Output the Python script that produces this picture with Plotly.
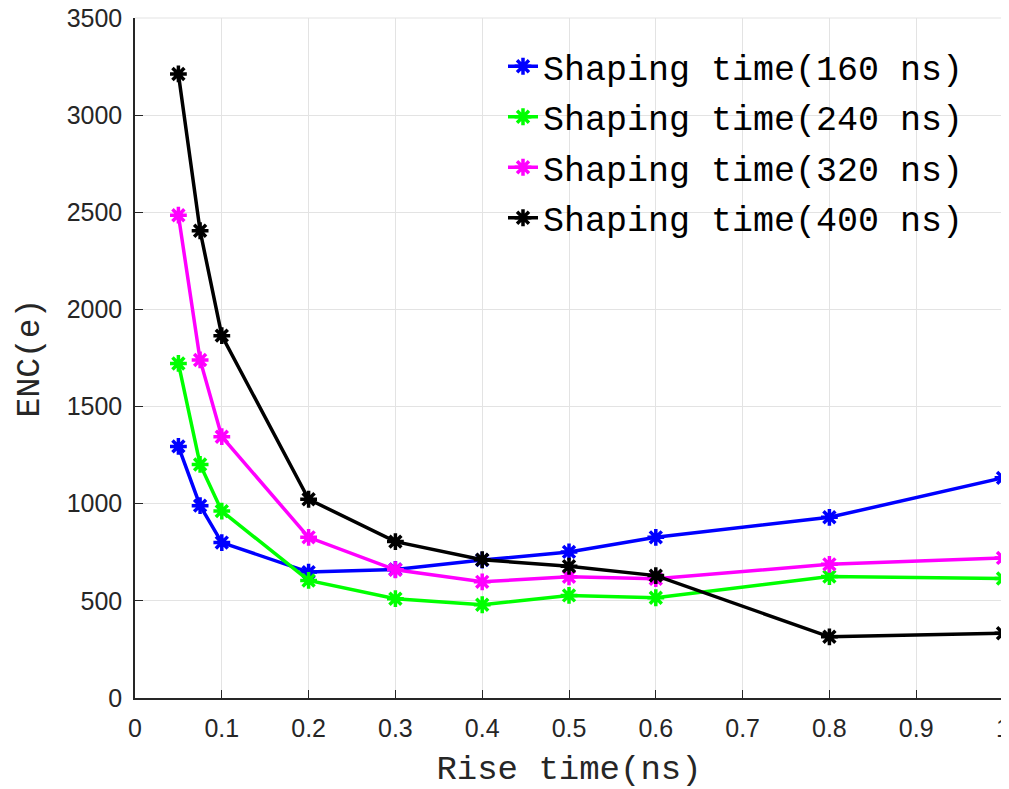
import plotly.graph_objects as go

rise_time = [0.05, 0.075, 0.1, 0.2, 0.3, 0.4, 0.5, 0.6, 0.8, 1.0]
enc_160 = [1295, 990, 800, 648, 662, 710, 752, 827, 930, 1133]
enc_240 = [1722, 1202, 962, 605, 511, 480, 528, 516, 625, 615]
enc_320 = [2485, 1740, 1345, 827, 660, 598, 624, 614, 688, 721]
enc_400 = [3212, 2405, 1865, 1023, 805, 712, 678, 630, 315, 333]

series_names = ["Shaping time(160 ns)", "Shaping time(240 ns)",
                "Shaping time(320 ns)", "Shaping time(400 ns)"]
series_values = [enc_160, enc_240, enc_320, enc_400]
colors = ["#0000FF", "#00FF00", "#FF00FF", "#000000"]

x_ticks = [0, 0.1, 0.2, 0.3, 0.4, 0.5, 0.6, 0.7, 0.8, 0.9, 1]
x_tick_labels = ["0", "0.1", "0.2", "0.3", "0.4", "0.5", "0.6", "0.7", "0.8", "0.9", "1"]
y_ticks = [0, 500, 1000, 1500, 2000, 2500, 3000, 3500]
y_tick_labels = [str(v) for v in y_ticks]

fig = go.Figure()
for name, vals, col in zip(series_names, series_values, colors):
    fig.add_trace(go.Scatter(
        x=rise_time, y=vals, name=name, mode="lines+markers",
        legendgroup=name,
        line=dict(color=col, width=3.5),
        marker=dict(symbol="asterisk-open", size=14, color=col,
                    line=dict(color=col, width=3.5)),
        cliponaxis=False,
    ))

mono = "Liberation Mono, DejaVu Sans Mono, monospace"
tickfont = dict(family="Liberation Sans, Arial, sans-serif", size=25, color="#262626")
grid_col = "#e3e3e3"

# the page body has an 8px margin, so the figure is offset by 8px
fig.update_layout(
    width=1001, height=781,
    template="none",
    paper_bgcolor="white", plot_bgcolor="white",
    margin=dict(l=127, r=6, t=10, b=91, autoexpand=False),
    showlegend=True,
    legend=dict(
        x=(503 - 135) / 868, xanchor="left",
        y=(698 - 37) / 680, yanchor="top",
        bgcolor="rgba(255,255,255,0)", borderwidth=0,
        font=dict(family=mono, size=35, color="#000000"),
        traceorder="grouped", tracegroupgap=2,
    ),
    xaxis=dict(
        range=[0, 1], tickvals=x_ticks, ticktext=x_tick_labels,
        ticks="inside", ticklen=8, tickwidth=1.3, tickcolor="#262626",
        showline=True, linecolor="#262626", linewidth=1.5,
        showgrid=True, gridcolor=grid_col, gridwidth=1,
        zeroline=False, mirror=False, automargin=False,
        tickfont=tickfont, ticklabelstandoff=7, ticklabeloverflow="allow",
        title=dict(text="Rise time(ns)", font=dict(family=mono, size=34, color="#262626"),
                   standoff=14),
    ),
    yaxis=dict(
        range=[0, 3500], tickvals=y_ticks, ticktext=y_tick_labels,
        ticks="inside", ticklen=8, tickwidth=1.3, tickcolor="#262626",
        showline=True, linecolor="#262626", linewidth=1.5,
        showgrid=True, gridcolor=grid_col, gridwidth=1,
        zeroline=False, mirror=False, automargin=False,
        tickfont=tickfont, ticklabelstandoff=6, ticklabeloverflow="allow",
        title=dict(text="ENC(e)", font=dict(family=mono, size=33, color="#262626"),
                   standoff=17),
    ),
    shapes=[
        dict(type="line", xref="paper", yref="paper", x0=0, x1=1, y0=1, y1=1,
             line=dict(color=grid_col, width=1), layer="below"),
        dict(type="line", xref="paper", yref="paper", x0=1, x1=1, y0=0, y1=1,
             line=dict(color=grid_col, width=1), layer="below"),
    ],
)

fig.write_html("out.html")
